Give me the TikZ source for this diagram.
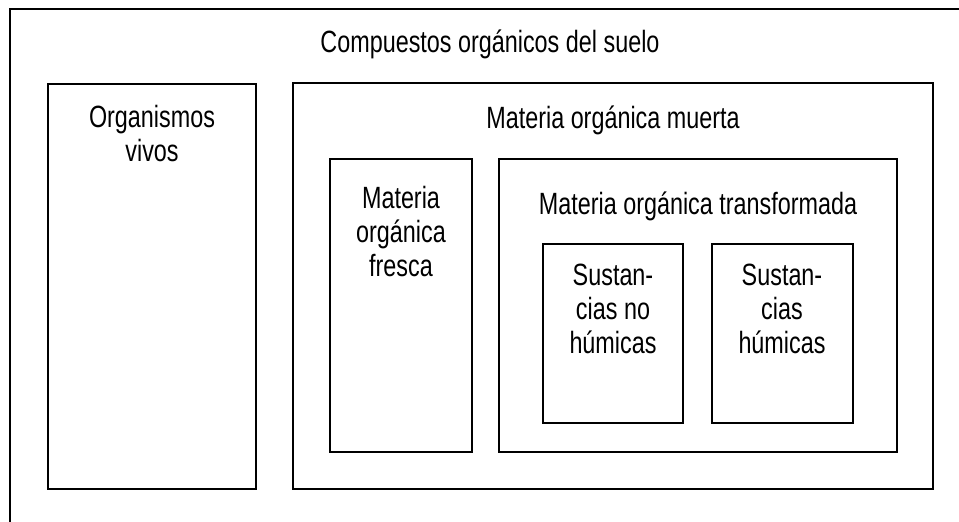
\documentclass[tikz,border=0pt]{standalone}
\usepackage{fontspec}
\setmainfont{Liberation Sans}[FakeStretch=0.76]
\begin{document}
\begin{tikzpicture}[x=0.02cm,y=-0.02cm,line width=0.8pt]
			\tikzset{lbl/.style={align=center,inner sep=0pt,anchor=base,
				font=\fontsize{17.5}{19.3}\selectfont}}
			\useasboundingbox (0,0) rectangle (959,521);
			\clip (0,0) rectangle (959,521);
			
			%Compuestos del suelo
			\draw (10,9) rectangle (980,540);
			\node[lbl] (suelo) at (490,52) {Compuestos orgánicos del suelo};
			
			%Organismos vivos
			\draw (48,84) rectangle (256,489);
			\node[lbl] (vivos) at (152,161) {Organismos\\vivos};
			
			%Materia muerta
			\draw (293,83) rectangle (933,489);
			\node[lbl] (muerta) at (613,128) {Materia orgánica muerta};
			
			%Materia fresca
			\draw (330,159) rectangle (472,452);
			\node[lbl] (fresca) at (401,276) {Materia\\orgánica\\fresca};
			
			%Materia transformada
			\draw (499,159) rectangle (897,452);
			\node[lbl] (transf) at (698,214) {Materia orgánica transformada};
			
			%Sustancias no humicas
			\draw (543,244) rectangle (683,423);
			\node[lbl] (nohum) at (613,353) {Sustan-\\cias no\\húmicas};
			
			%Sustancias humicas
			\draw (712,244) rectangle (853,423);
			\node[lbl] (hum) at (782,353) {Sustan-\\cias\\húmicas};
\end{tikzpicture}
\end{document}
